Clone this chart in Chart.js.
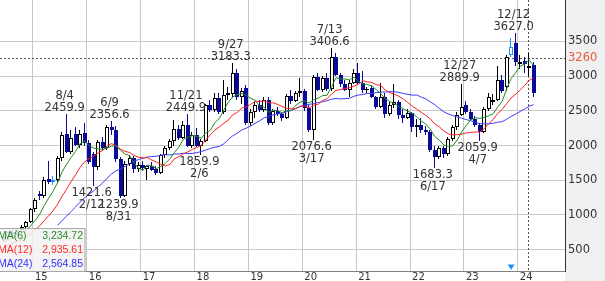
<!DOCTYPE html>
<html>
<head>
<meta charset="utf-8">
<script src="https://cdn.jsdelivr.net/npm/chart.js@4.4.1/dist/chart.umd.min.js"></script>
<style>
  html, body { margin: 0; padding: 0; background: #fff; }
  canvas { display: block; }
</style>
</head>
<body>
<canvas id="priceChart" width="605" height="281"></canvas>
<script>
// monthly candles, the first one is Jun 2014
var firstYear = 2014, firstMonth = 6;

// closes before the first visible candle (Jul 2013 - May 2014), only used for the moving averages
var priorCloses = [430, 450, 470, 480, 500, 520, 540, 580, 600, 640, 650];

var opens = [
    640, 680, 750, 730, 780, 830, 900,                                      // 2014 Jun-Dec
    1080, 1300, 1270, 1520, 1480, 1510, 1820, 2170, 1910, 2170, 2010, 2180, // 2015
    2040, 1880, 1690, 2050, 1960, 2270, 2220, 1800, 1280, 1740, 1820, 1660, // 2016
    1720, 1660, 1700, 1660, 1610, 1860, 1970, 2060, 2240, 2110, 2300, 2000, // 2017
    2150, 1990, 2070, 2580, 2510, 2680, 2490, 2730, 2740, 3040, 2700, 2830, // 2018
    2320, 2480, 2590, 2510, 2650, 2320, 2500, 2450, 2400, 2720, 2640, 2760, // 2019
    2780, 2540, 2230, 2990, 2800, 2970, 2810, 3270, 3020, 2880, 2800, 2900, // 2020
    3040, 2900, 2800, 2830, 2700, 2560, 2700, 2450, 2580, 2620, 2440, 2400, // 2021
    2470, 2260, 2300, 2230, 2200, 1940, 1840, 1960, 1880, 2100, 2260, 2440, // 2022
    2580, 2480, 2380, 2290, 2200, 2520, 2620, 2660, 2950, 2850, 3305, 3470, // 2023
    3180, 3220, 3110, 3160                                                  // 2024 Jan-Apr
];
var highs = [
    700, 770, 790, 800, 850, 920, 1100,
    1250, 1340, 1540, 1780, 1560, 1850, 2200, 2459.9, 2230, 2260, 2220, 2330,
    2080, 1900, 2080, 2130, 2300, 2356.6, 2280, 1830, 1780, 1860, 1850, 1760,
    1780, 1720, 1760, 1700, 1880, 2000, 2100, 2370, 2300, 2350, 2449.9, 2200,
    2250, 2090, 2600, 2650, 2750, 2750, 2950, 2850, 3183.3, 3100, 2830, 2870,
    2520, 2620, 2660, 2700, 2700, 2520, 2550, 2480, 2740, 2800, 2790, 2970,
    2820, 2580, 3020, 3050, 3000, 3050, 3406.6, 3330, 3050, 2950, 2950, 3100,
    3190, 3080, 2850, 2860, 2720, 2900, 2750, 2620, 2880, 2660, 2520, 2520,
    2490, 2380, 2400, 2280, 2230, 1990, 1990, 2000, 2120, 2300, 2480, 2889.9,
    2640, 2520, 2420, 2320, 2560, 2760, 2740, 3150, 3020, 3300, 3550, 3627.0,
    3300, 3280, 3330, 3210
];
var lows = [
    610, 660, 700, 710, 740, 810, 880,
    1040, 1210, 1250, 1440, 1430, 1480, 1780, 1890, 1880, 1990, 1960, 2000,
    1730, 1421.6, 1650, 1920, 1930, 2150, 1760, 1239.9, 1260, 1700, 1600, 1620,
    1640, 1510, 1640, 1580, 1590, 1820, 1930, 2000, 2080, 2090, 1980, 1970,
    1980, 1859.9, 2050, 2480, 2490, 2450, 2460, 2650, 2700, 2650, 2600, 2300,
    2280, 2400, 2480, 2480, 2300, 2290, 2420, 2350, 2380, 2600, 2620, 2700,
    2500, 2200, 2076.6, 2780, 2770, 2780, 2780, 3000, 2850, 2780, 2700, 2880,
    2880, 2760, 2760, 2680, 2520, 2540, 2400, 2420, 2540, 2380, 2330, 2380,
    2200, 2130, 2180, 2150, 1900, 1683.3, 1800, 1820, 1850, 2070, 2230, 2420,
    2460, 2360, 2260, 2059.9, 2180, 2500, 2580, 2640, 2760, 2780, 3280, 3150,
    3100, 3050, 3000, 2700
];
var closes = [
    680, 750, 730, 780, 830, 900, 1080,
    1220, 1270, 1510, 1480, 1510, 1820, 2150, 1910, 2110, 2010, 2170, 2040,
    1760, 1690, 2050, 1960, 2270, 2220, 1800, 1280, 1740, 1820, 1660, 1720,
    1670, 1700, 1650, 1610, 1860, 1970, 2070, 2240, 2110, 2300, 2000, 2150,
    2000, 2070, 2580, 2510, 2680, 2490, 2730, 2760, 3040, 2700, 2780, 2320,
    2480, 2590, 2510, 2650, 2320, 2500, 2450, 2400, 2720, 2640, 2760, 2780,
    2540, 2230, 2990, 2800, 2970, 2810, 3270, 3020, 2880, 2800, 2900, 3040,
    2900, 2800, 2820, 2700, 2560, 2700, 2450, 2580, 2620, 2440, 2400, 2470,
    2260, 2300, 2230, 2200, 1940, 1840, 1960, 1879.08, 2100, 2260, 2440, 2560,
    2480, 2380, 2290, 2200, 2520, 2700, 2660, 2950, 2789, 3275, 3420, 3200,
    3200, 3170, 3143.32, 2760
];

// high / low labels: month, kind, date text
var extremes = [
    ['2015-08', 'high', '8/4'],
    ['2016-02', 'low', '2/12'],
    ['2016-06', 'high', '6/9'],
    ['2016-08', 'low', '8/31'],
    ['2017-11', 'high', '11/21'],
    ['2018-02', 'low', '2/6'],
    ['2018-09', 'high', '9/27'],
    ['2020-03', 'low', '3/17'],
    ['2020-07', 'high', '7/13'],
    ['2022-06', 'low', '6/17'],
    ['2022-12', 'high', '12/27'],
    ['2023-04', 'low', '4/7'],
    ['2023-12', 'high', '12/12']
];

var highlightMonths = ['2015-05', '2023-11'];
var markerMonth = '2023-11';
var cursorMonth = '2024-03';
var cursorPrice = 3260;
var priceTicks = [500, 1000, 1500, 2000, 2500, 3000, 3500];
var yearTicks = [2015, 2016, 2017, 2018, 2019, 2020, 2021, 2022, 2023, 2024];

var navy = '#0a0a98';

function xOf(i) {
    return (firstYear - 2015) * 12 + (firstMonth - 1) + i + 0.5;
}
function indexOf(ym) {
    var p = ym.split('-');
    return (+p[0] - firstYear) * 12 + (+p[1] - firstMonth);
}

var allCloses = priorCloses.concat(closes);
function movingAverage(n) {
    return closes.map(function (c, i) {
        var end = i + priorCloses.length;
        if (end - n + 1 < 0) return null;
        var sum = 0;
        for (var k = end - n + 1; k <= end; k++) sum += allCloses[k];
        return sum / n;
    });
}
var ma6 = movingAverage(6);
var ma12 = movingAverage(12);
var ma24 = movingAverage(24);

var highlighted = highlightMonths.map(indexOf);
var isUp = closes.map(function (c, i) { return c >= opens[i]; });

function candleEdge(i) {
    if (highlighted.indexOf(i) >= 0) return '#1e90ff';
    return isUp[i] ? '#000' : navy;
}

function maLine(values, color) {
    return {
        type: 'line',
        data: values.map(function (v, i) { return {x: xOf(i), y: v}; }),
        borderColor: color,
        borderWidth: 1,
        pointRadius: 0,
        tension: 0,
        fill: false,
        order: 0
    };
}

// snap candle bars to whole pixels so the outlines stay sharp
var snapCandles = {
    id: 'snapCandles',
    afterDatasetsUpdate: function (chart) {
        chart.data.datasets.forEach(function (ds, k) {
            if (!ds.candlePart) return;
            chart.getDatasetMeta(k).data.forEach(function (el) {
                el.x = ds.candlePart === 'wick' ? Math.round(el.x) - 0.5 : Math.round(el.x);
                el.y = Math.round(el.y);
                el.base = Math.round(el.base);
            });
        });
    }
};

var overlay = {
    id: 'overlay',
    beforeDraw: function (chart) {
        var ctx = chart.ctx, area = chart.chartArea;
        ctx.save();
        ctx.fillStyle = '#fff';
        ctx.fillRect(0, 0, chart.width, chart.height);
        ctx.fillStyle = '#f0f0f0';
        ctx.fillRect(area.right, 0, chart.width - area.right, chart.height);
        ctx.restore();
    },
    beforeDatasetsDraw: function (chart) {
        var ctx = chart.ctx, area = chart.chartArea;
        var xs = chart.scales.x, ys = chart.scales.y;
        var cx = Math.floor(xs.getPixelForValue(xOf(indexOf(cursorMonth)))) - 0.5;
        var cy = Math.round(ys.getPixelForValue(cursorPrice)) + 0.5;
        ctx.save();
        ctx.strokeStyle = '#555';
        ctx.lineWidth = 1;
        ctx.setLineDash([2, 2]);
        ctx.beginPath();
        ctx.moveTo(area.left, cy);
        ctx.lineTo(area.right, cy);
        ctx.moveTo(cx, area.top);
        ctx.lineTo(cx, area.bottom);
        ctx.stroke();
        ctx.restore();
    },
    afterDatasetsDraw: function (chart) {
        var ctx = chart.ctx, area = chart.chartArea;
        var xs = chart.scales.x, ys = chart.scales.y;
        ctx.save();

        // high / low labels
        ctx.font = '11.5px "DejaVu Sans"';
        ctx.fillStyle = '#333';
        ctx.textAlign = 'center';
        ctx.textBaseline = 'alphabetic';
        extremes.forEach(function (e) {
            var i = indexOf(e[0]);
            var high = e[1] === 'high';
            var v = high ? highs[i] : lows[i];
            var px = xs.getPixelForValue(xOf(i)) - 2;
            var py = ys.getPixelForValue(v);
            if (high) {
                ctx.fillText(e[2], px, py - 15);
                ctx.fillText(v.toFixed(1), px, py - 3);
            } else {
                ctx.fillText(v.toFixed(1), px, py + 10);
                ctx.fillText(e[2], px, py + 22);
            }
        });

        // marker under the highlighted month
        var mx = xs.getPixelForValue(xOf(indexOf(markerMonth)));
        ctx.fillStyle = '#1e90ff';
        ctx.beginPath();
        ctx.moveTo(mx - 3.5, area.bottom - 6.5);
        ctx.lineTo(mx + 3.5, area.bottom - 6.5);
        ctx.lineTo(mx, area.bottom - 1);
        ctx.closePath();
        ctx.fill();

        // moving average legend, values at the cursor month
        var ci = indexOf(cursorMonth);
        var rows = [['MA(6)', ma6, '#2a8a2a'], ['MA(12)', ma12, '#ff2a2a'], ['MA(24)', ma24, '#3232ff']];
        ctx.fillStyle = 'rgba(242,242,242,0.85)';
        ctx.fillRect(-1, 228, 87, area.bottom - 228);
        ctx.strokeStyle = '#a8a8a8';
        ctx.lineWidth = 1;
        ctx.strokeRect(-0.5, 228.5, 85.5, area.bottom - 228);
        ctx.font = '10.5px "Liberation Sans"';
        rows.forEach(function (r, k) {
            var y = 239 + k * 14;
            ctx.fillStyle = r[2];
            ctx.textAlign = 'left';
            ctx.fillText(r[0], -2, y);
            ctx.textAlign = 'right';
            ctx.fillText(r[1][ci].toLocaleString('en-US', {minimumFractionDigits: 2, maximumFractionDigits: 2}), 83, y);
        });

        // cursor price on the axis
        ctx.font = '11.5px "DejaVu Sans"';
        ctx.fillStyle = '#f05a3c';
        ctx.textAlign = 'left';
        ctx.textBaseline = 'middle';
        ctx.fillText(String(cursorPrice), area.right + 3, ys.getPixelForValue(cursorPrice));
        ctx.restore();
    }
};

new Chart(document.getElementById('priceChart').getContext('2d'), {
    type: 'bar',
    data: {
        datasets: [
            maLine(ma6, '#228b22'),
            maLine(ma12, '#ff2020'),
            maLine(ma24, '#3c3cff'),
            {
                // candle bodies
                type: 'bar',
                candlePart: 'body',
                data: closes.map(function (c, i) { return {x: xOf(i), y: [opens[i], c]}; }),
                backgroundColor: isUp.map(function (u) { return u ? '#fff' : navy; }),
                borderColor: closes.map(function (c, i) { return candleEdge(i); }),
                borderWidth: 1,
                borderSkipped: false,
                inflateAmount: 0,
                minBarLength: 1,
                barThickness: 4,
                grouped: false,
                order: 1
            },
            {
                // wicks
                type: 'bar',
                candlePart: 'wick',
                data: closes.map(function (c, i) { return {x: xOf(i), y: [lows[i], highs[i]]}; }),
                backgroundColor: closes.map(function (c, i) { return candleEdge(i); }),
                borderWidth: 0,
                inflateAmount: 0,
                barThickness: 1,
                grouped: false,
                order: 2
            }
        ]
    },
    options: {
        responsive: false,
        animation: false,
        events: [],
        layout: { padding: 0 },
        plugins: {
            legend: { display: false },
            tooltip: { enabled: false }
        },
        scales: {
            x: {
                type: 'linear',
                min: -7.35,
                max: 118.5,
                offset: false,
                grid: { color: '#c8c8c8', offset: false, drawTicks: false },
                border: { display: true, color: '#808080' },
                afterBuildTicks: function (axis) {
                    axis.ticks = yearTicks.map(function (y) { return {value: (y - 2015) * 12}; });
                },
                afterFit: function (axis) {
                    axis.height = 10;
                    axis.paddingLeft = 0;
                    axis.paddingRight = 0;
                },
                ticks: {
                    autoSkip: false,
                    maxRotation: 0,
                    align: 'start',
                    labelOffset: 2,
                    padding: 0,
                    color: '#333',
                    font: { family: 'DejaVu Sans', size: 10 },
                    callback: function (v) { return String((2015 + v / 12) % 100); }
                }
            },
            y: {
                position: 'right',
                min: 193,
                max: 4096,
                beginAtZero: false,
                grid: { color: '#c8c8c8', drawTicks: false },
                border: { display: true, color: '#333' },
                afterBuildTicks: function (axis) {
                    axis.ticks = priceTicks.map(function (v) { return {value: v}; });
                },
                afterFit: function (axis) {
                    axis.width = 40;
                    axis.paddingTop = 0;
                    axis.paddingBottom = 0;
                },
                ticks: {
                    padding: 3,
                    color: '#333',
                    font: { family: 'DejaVu Sans', size: 11.5 },
                    callback: function (v) { return String(v); }
                }
            }
        }
    },
    plugins: [snapCandles, overlay]
});
</script>
</body>
</html>
